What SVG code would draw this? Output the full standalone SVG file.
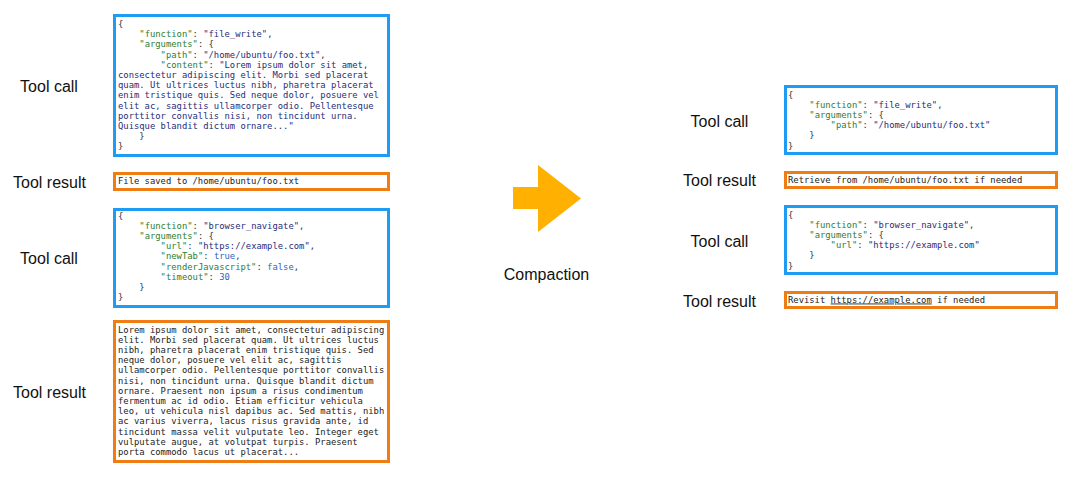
<svg xmlns="http://www.w3.org/2000/svg" width="1080" height="481" viewBox="0 0 1080 481">
<style>
.bg{fill:#ffffff}
.call{fill:#ffffff;stroke:#1e9cf3;stroke-width:3}
.res{fill:#ffffff;stroke:#f07c14;stroke-width:3}
.lbl{font-family:"Liberation Sans",Arial,sans-serif;font-size:16px;fill:#111111;text-anchor:middle}
.c{font-family:"DejaVu Sans Mono","Liberation Mono",monospace;font-size:8.85px;fill:#333333;white-space:pre}
.k{fill:#2e7d32}
.s{fill:#1f2d7a}
.n{fill:#2f62c0}
.t{fill:#222222}
</style>
<rect class="bg" x="0" y="0" width="1080" height="481"/>

<g id="connectors">
  <polygon points="513,187 538,187 538,165 581,198.5 538,232 538,209 513,209" fill="#ffb000"/>
  <text class="lbl" x="546.5" y="280">Compaction</text>
</g>

<g id="label-left-call1"><text class="lbl" x="49" y="92">Tool call</text></g>
<g id="label-left-result1"><text class="lbl" x="49.5" y="188">Tool result</text></g>
<g id="label-left-call2"><text class="lbl" x="49" y="264">Tool call</text></g>
<g id="label-left-result2"><text class="lbl" x="49.5" y="398">Tool result</text></g>

<g id="left-call1">
  <rect class="call" x="114.5" y="15.5" width="274" height="140"/>
  <text class="c" x="118" y="27">{</text>
  <text class="c" x="118" y="37.2">    <tspan class="k">"function"</tspan>: <tspan class="s">"file_write"</tspan>,</text>
  <text class="c" x="118" y="47.4">    <tspan class="k">"arguments"</tspan>: {</text>
  <text class="c" x="118" y="57.6">        <tspan class="k">"path"</tspan>: <tspan class="s">"/home/ubuntu/foo.txt"</tspan>,</text>
  <text class="c" x="118" y="67.8">        <tspan class="k">"content"</tspan>: <tspan class="s">"Lorem ipsum dolor sit amet,</tspan></text>
  <text class="c s" x="118" y="78">consectetur adipiscing elit. Morbi sed placerat</text>
  <text class="c s" x="118" y="88.2">quam. Ut ultrices luctus nibh, pharetra placerat</text>
  <text class="c s" x="118" y="98.4">enim tristique quis. Sed neque dolor, posuere vel</text>
  <text class="c s" x="118" y="108.6">elit ac, sagittis ullamcorper odio. Pellentesque</text>
  <text class="c s" x="118" y="118.8">porttitor convallis nisi, non tincidunt urna.</text>
  <text class="c s" x="118" y="129">Quisque blandit dictum ornare..."</text>
  <text class="c" x="118" y="139.2">    }</text>
  <text class="c" x="118" y="149.4">}</text>
</g>

<g id="left-result1">
  <rect class="res" x="114.5" y="173.5" width="274" height="16"/>
  <text class="c t" x="118" y="184">File saved to /home/ubuntu/foo.txt</text>
</g>

<g id="left-call2">
  <rect class="call" x="114.5" y="209.5" width="274" height="97"/>
  <text class="c" x="118" y="218.5">{</text>
  <text class="c" x="118" y="228.7">    <tspan class="k">"function"</tspan>: <tspan class="s">"browser_navigate"</tspan>,</text>
  <text class="c" x="118" y="238.9">    <tspan class="k">"arguments"</tspan>: {</text>
  <text class="c" x="118" y="249.1">        <tspan class="k">"url"</tspan>: <tspan class="s">"https://example.com"</tspan>,</text>
  <text class="c" x="118" y="259.3">        <tspan class="k">"newTab"</tspan>: <tspan class="n">true</tspan>,</text>
  <text class="c" x="118" y="269.5">        <tspan class="k">"renderJavascript"</tspan>: <tspan class="n">false</tspan>,</text>
  <text class="c" x="118" y="279.7">        <tspan class="k">"timeout"</tspan>: <tspan class="n">30</tspan></text>
  <text class="c" x="118" y="289.9">    }</text>
  <text class="c" x="118" y="300.1">}</text>
</g>

<g id="left-result2">
  <rect class="res" x="114.5" y="321.5" width="274" height="140"/>
  <text class="c t" x="118" y="332.5">Lorem ipsum dolor sit amet, consectetur adipiscing</text>
  <text class="c t" x="118" y="342.7">elit. Morbi sed placerat quam. Ut ultrices luctus</text>
  <text class="c t" x="118" y="352.9">nibh, pharetra placerat enim tristique quis. Sed</text>
  <text class="c t" x="118" y="363.1">neque dolor, posuere vel elit ac, sagittis</text>
  <text class="c t" x="118" y="373.3">ullamcorper odio. Pellentesque porttitor convallis</text>
  <text class="c t" x="118" y="383.5">nisi, non tincidunt urna. Quisque blandit dictum</text>
  <text class="c t" x="118" y="393.7">ornare. Praesent non ipsum a risus condimentum</text>
  <text class="c t" x="118" y="403.9">fermentum ac id odio. Etiam efficitur vehicula</text>
  <text class="c t" x="118" y="414.1">leo, ut vehicula nisl dapibus ac. Sed mattis, nibh</text>
  <text class="c t" x="118" y="424.3">ac varius viverra, lacus risus gravida ante, id</text>
  <text class="c t" x="118" y="434.5">tincidunt massa velit vulputate leo. Integer eget</text>
  <text class="c t" x="118" y="444.7">vulputate augue, at volutpat turpis. Praesent</text>
  <text class="c t" x="118" y="454.9">porta commodo lacus ut placerat...</text>
</g>

<g id="label-right-call1"><text class="lbl" x="719.5" y="127">Tool call</text></g>
<g id="label-right-result1"><text class="lbl" x="719.5" y="186">Tool result</text></g>
<g id="label-right-call2"><text class="lbl" x="719.5" y="247">Tool call</text></g>
<g id="label-right-result2"><text class="lbl" x="719.5" y="307">Tool result</text></g>

<g id="right-call1">
  <rect class="call" x="785.5" y="86.5" width="271" height="67"/>
  <text class="c" x="788" y="97.5">{</text>
  <text class="c" x="788" y="107.7">    <tspan class="k">"function"</tspan>: <tspan class="s">"file_write"</tspan>,</text>
  <text class="c" x="788" y="117.9">    <tspan class="k">"arguments"</tspan>: {</text>
  <text class="c" x="788" y="128.1">        <tspan class="k">"path"</tspan>: <tspan class="s">"/home/ubuntu/foo.txt"</tspan></text>
  <text class="c" x="788" y="138.3">    }</text>
  <text class="c" x="788" y="148.5">}</text>
</g>

<g id="right-result1">
  <rect class="res" x="785.5" y="172.5" width="271" height="15"/>
  <text class="c t" x="788" y="182.5">Retrieve from /home/ubuntu/foo.txt if needed</text>
</g>

<g id="right-call2">
  <rect class="call" x="785.5" y="206.5" width="271" height="67"/>
  <text class="c" x="788" y="217.5">{</text>
  <text class="c" x="788" y="227.7">    <tspan class="k">"function"</tspan>: <tspan class="s">"browser_navigate"</tspan>,</text>
  <text class="c" x="788" y="237.9">    <tspan class="k">"arguments"</tspan>: {</text>
  <text class="c" x="788" y="248.1">        <tspan class="k">"url"</tspan>: <tspan class="s">"https://example.com"</tspan></text>
  <text class="c" x="788" y="258.3">    }</text>
  <text class="c" x="788" y="268.5">}</text>
</g>

<g id="right-result2">
  <rect class="res" x="785.5" y="292.5" width="271" height="15"/>
  <text class="c t" x="788" y="302.5">Revisit <tspan text-decoration="underline">https://example.com</tspan> if needed</text>
</g>
</svg>
